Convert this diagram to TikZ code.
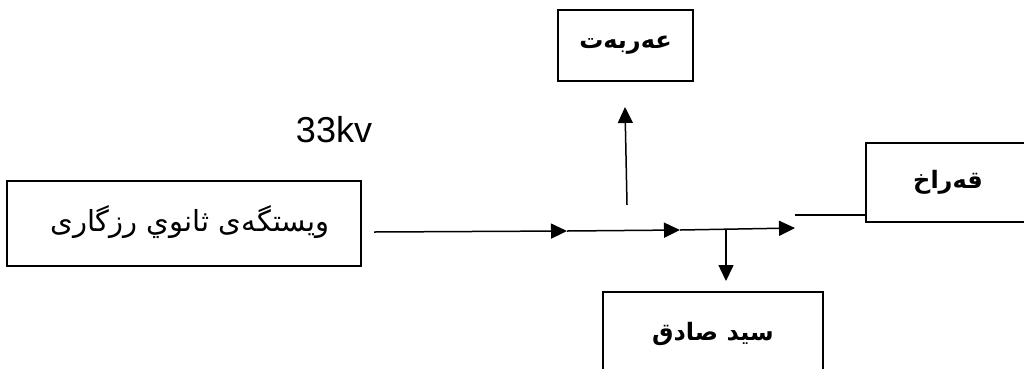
\documentclass[tikz,border=0pt]{standalone}
\usepackage{fontspec}
\setmainfont{Liberation Sans}
\newfontfamily\arabicfont[Script=Arabic]{DejaVu Sans}
\TeXXeTstate=1
\usetikzlibrary{arrows.meta}
\begin{document}
\begin{tikzpicture}[x=1pt,y=-1pt,
  box/.style={draw, line width=1.5pt, inner sep=0pt},
  conn/.style={line width=1.5pt},
  arr/.style={conn,-{Triangle[length=16pt,width=15pt]}},
  lbl/.style={font=\arabicfont\fontsize{24}{28}\selectfont}]
\useasboundingbox (0,0) rectangle (1024,368);
\fill[white] (0,0) rectangle (1024,368);
% boxes
\node[box, minimum width=354pt, minimum height=85pt] (src) at (184,223.5) {};
\node[font=\arabicfont\fontsize{29}{34}\selectfont, inner sep=0pt] (srct) at (190,222)
  {\beginR ویستگەی ثانوي رزگاری\endR};
\node[box, lbl, minimum width=135pt, minimum height=71pt] (top) at (625.5,45.5)
  {\bfseries\beginR عەربەت\endR};
\node[box, lbl, minimum width=164pt, minimum height=79pt] (right) at (948,182.5)
  {\bfseries\beginR قەراخ\endR};
\node[box, lbl, minimum width=220pt, minimum height=84pt] (bot) at (713,334)
  {\bfseries\beginR سيد صادق\endR};
\node[font=\fontsize{36}{40}\selectfont, inner sep=0pt] (kv) at (334,130) {33kv};
% connector points
\coordinate (s) at (374,232);
\coordinate (j1) at (567,231);
\coordinate (j2) at (680,230);
\coordinate (j3) at (795,228);
\coordinate (b0) at (726,228.6);
\coordinate (bt) at (726,281);
\coordinate (u0) at (627,205);
\coordinate (ut) at (625,107);
\coordinate (r0) at (795,215);
% connectors
\draw[arr] (s) -- (j1);
\draw[arr] (j1) -- (j2);
\draw[arr] (j2) -- (j3);
\draw[arr] (b0) -- (bt);
\draw[arr] (u0) -- (ut);
\draw[conn] (r0) -- (r0 -| right.west);
\end{tikzpicture}
\end{document}
